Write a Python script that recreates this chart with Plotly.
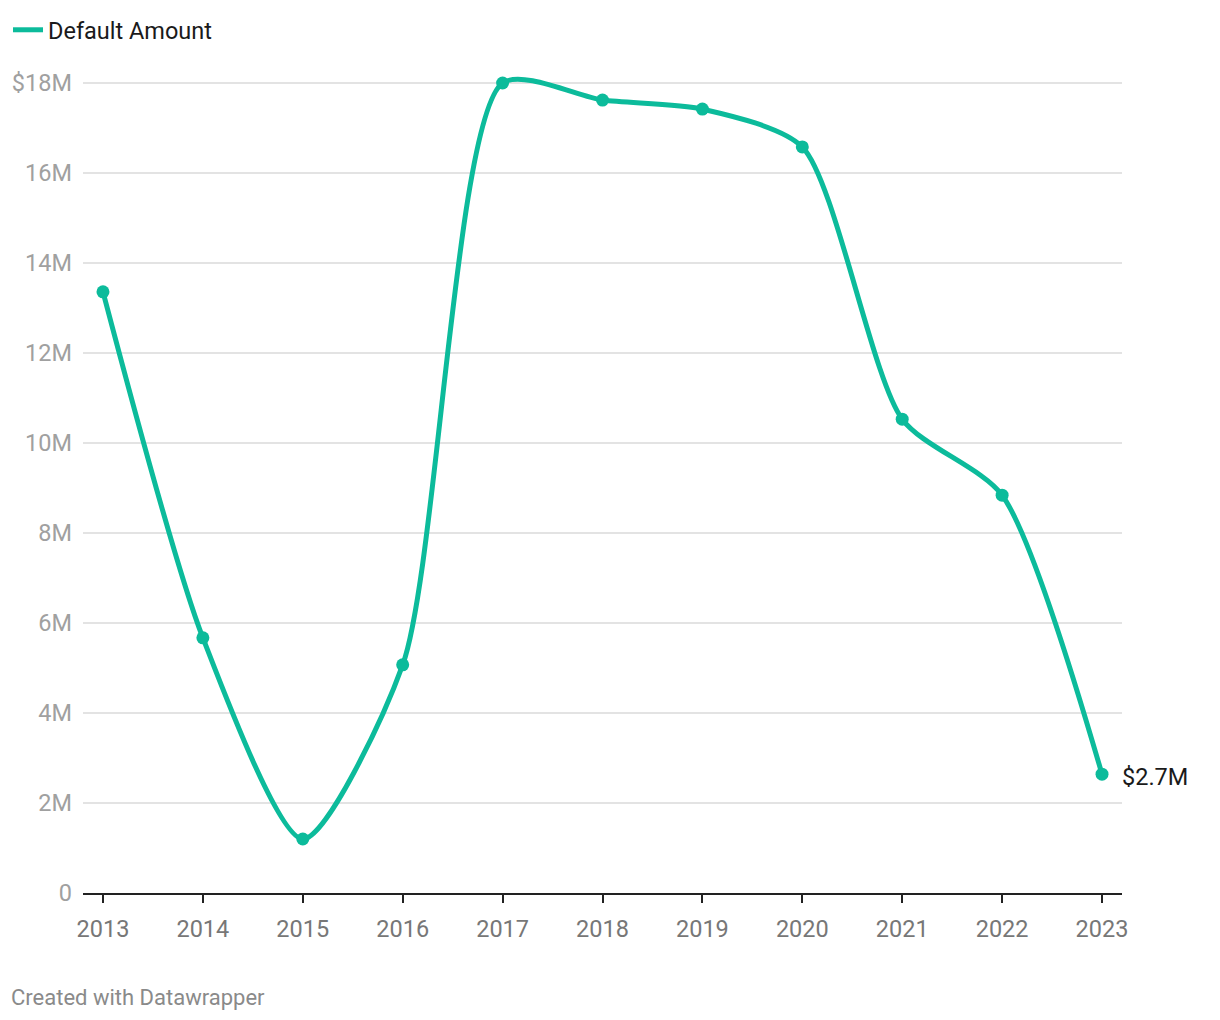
import plotly.graph_objects as go

# Données
years = [2013, 2014, 2015, 2016, 2017, 2018, 2019, 2020, 2021, 2022, 2023]
default_amount = [13.36e6, 5.67e6, 1.2e6, 5.07e6, 18.0e6, 17.62e6, 17.42e6, 16.58e6, 10.53e6, 8.84e6, 2.64e6]

y_tickvals = [0, 2e6, 4e6, 6e6, 8e6, 10e6, 12e6, 14e6, 16e6, 18e6]
y_ticktext = ["0", "2M", "4M", "6M", "8M", "10M", "12M", "14M", "16M", "$18M"]

teal = "#0cbb9b"

# La page ajoute 8px de marge autour de la figure
W, H = 1212, 1012
ML, MR, MT, MB = 75, 98, 66, 127
PW, PH = W - ML - MR, H - MT - MB

fig = go.Figure()

# Courbe principale
fig.add_trace(go.Scatter(
    x=years,
    y=default_amount,
    mode="lines+markers",
    line=dict(color=teal, width=5, shape="spline", smoothing=0.7),
    marker=dict(color=teal, size=13),
    showlegend=False,
    hoverinfo="x+y",
))

# Entrée de légende (ligne seule)
fig.add_trace(go.Scatter(
    x=[None], y=[None],
    mode="lines",
    name="Default Amount",
    line=dict(color=teal, width=5),
))

# Étiquette de la dernière valeur
fig.add_annotation(
    x=years[-1], y=default_amount[-1],
    text="$2.7M",
    showarrow=False,
    xanchor="left", yanchor="middle",
    xshift=18, yshift=-3,
    font=dict(family="Roboto", size=23.5, color="#1a1a1a"),
)

# Mention en bas
fig.add_annotation(
    xref="paper", yref="paper",
    x=(1 - ML) / PW, y=-(989 - (H - MB)) / PH,
    text="Created with Datawrapper",
    showarrow=False,
    xanchor="left", yanchor="middle",
    font=dict(family="Roboto", size=22, color="#8a8a8a"),
)

fig.update_layout(
    width=W,
    height=H,
    margin=dict(l=ML, r=MR, t=MT, b=MB),
    paper_bgcolor="white",
    plot_bgcolor="white",
    font=dict(family="Roboto", size=23.5, color="#333"),
    showlegend=True,
    legend=dict(
        orientation="h",
        xref="container", yref="container",
        x=0.0, y=1.0,
        xanchor="left", yanchor="top",
        font=dict(family="Roboto", size=23.5, color="#1a1a1a"),
        itemwidth=30,
        bgcolor="rgba(0,0,0,0)",
    ),
    xaxis=dict(
        range=[2012.8, 2023.2],
        tickvals=years,
        ticktext=[str(y) for y in years],
        showgrid=False,
        zeroline=False,
        showline=True,
        linecolor="#222",
        linewidth=2,
        ticks="outside",
        ticklen=8,
        tickwidth=2,
        tickcolor="#222",
        ticklabelstandoff=6,
        tickfont=dict(family="Roboto", size=23.5, color="#777"),
        automargin=False,
        fixedrange=True,
    ),
    yaxis=dict(
        range=[0, 18.2e6],
        tickvals=y_tickvals,
        ticktext=y_ticktext,
        showgrid=True,
        gridcolor="#e3e3e3",
        gridwidth=1.5,
        zeroline=False,
        showline=False,
        ticks="",
        ticklabelstandoff=10,
        tickfont=dict(family="Roboto", size=23.5, color="#a0a0a0"),
        automargin=False,
        fixedrange=True,
    ),
)

fig.write_html("out.html")
